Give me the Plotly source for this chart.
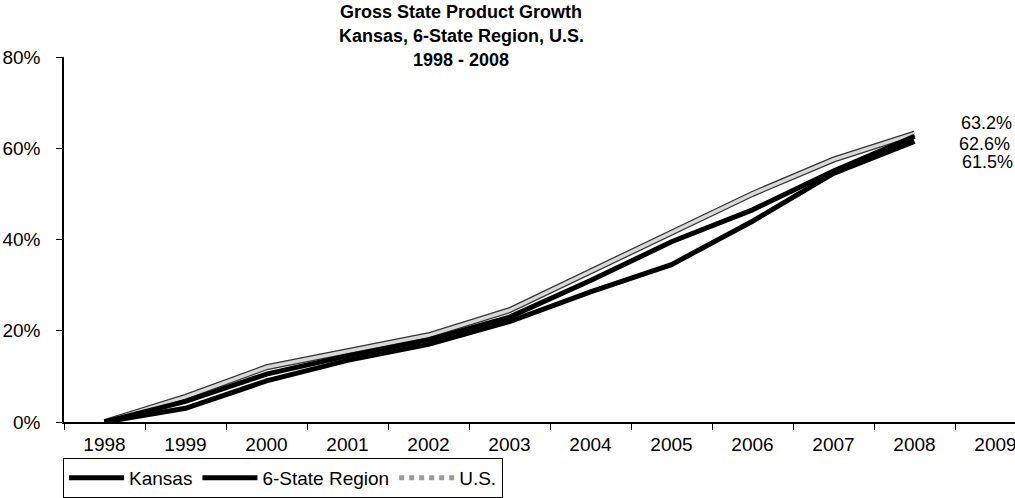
import plotly.graph_objects as go

years = ["1998", "1999", "2000", "2001", "2002", "2003", "2004", "2005", "2006", "2007", "2008"]
axis_years = years + ["2009"]
kansas = [0.0, 3.0, 9.0, 13.5, 17.0, 22.0, 28.5, 34.5, 44.0, 54.5, 61.5]
region = [0.0, 4.5, 10.5, 14.5, 18.0, 23.0, 31.0, 39.5, 46.5, 55.0, 62.6]
us = [0.0, 5.5, 12.0, 15.5, 19.0, 24.5, 33.0, 41.5, 50.0, 57.5, 63.2]
y_ticks = [0, 20, 40, 60, 80]
title_lines = ["Gross State Product Growth", "Kansas, 6-State Region, U.S.", "1998 - 2008"]

FONT = "Liberation Sans, Arial, sans-serif"
W, H = 1015, 498
L, T, B = 64, 57, 74
PH = H - T - B

fig = go.Figure()
fig.add_trace(go.Scatter(x=years, y=us, mode="lines", name="U.S.",
                         line=dict(color="#333333", width=6), showlegend=False, hoverinfo="skip"))
fig.add_trace(go.Scatter(x=years, y=us, mode="lines", name="U.S.",
                         line=dict(color="#d8d8d8", width=3.5), showlegend=False))
fig.add_trace(go.Scatter(x=years, y=region, mode="lines", name="6-State Region",
                         line=dict(color="black", width=5), showlegend=False))
fig.add_trace(go.Scatter(x=years, y=kansas, mode="lines", name="Kansas",
                         line=dict(color="black", width=5), showlegend=False))
# legend entries
fig.add_trace(go.Scatter(x=[None], y=[None], mode="lines", name="Kansas",
                         line=dict(color="black", width=5)))
fig.add_trace(go.Scatter(x=[None], y=[None], mode="lines", name="6-State Region",
                         line=dict(color="black", width=5)))
fig.add_trace(go.Scatter(x=[None], y=[None], mode="lines", name="U.S.",
                         line=dict(color="#9a9a9a", width=5, dash="dot")))

last = len(years) - 1
for val, dx, dy in [(us[-1], 72, 11), (region[-1], 70, -8), (kansas[-1], 73, -21)]:
    fig.add_annotation(x=last, y=val, xref="x", yref="y", text=f"{val:.1f}%",
                       showarrow=False, xshift=dx, yshift=dy,
                       font=dict(family=FONT, size=18, color="black"))

for txt, ypix in zip(title_lines, [12, 36, 60]):
    fig.add_annotation(x=(461 - L) / (W - L), xref="paper", y=(H - B - ypix) / PH, yref="paper",
                       text=f"<b>{txt}</b>", showarrow=False, xanchor="center", yanchor="middle",
                       font=dict(family=FONT, size=18, color="black"))

fig.update_layout(
    width=W, height=H,
    margin=dict(l=L, r=0, t=T, b=B),
    paper_bgcolor="white", plot_bgcolor="white",
    font=dict(family=FONT, size=19, color="black"),
    legend=dict(orientation="h", x=-0.001, xanchor="left", y=-0.1, yanchor="top",
                bordercolor="black", borderwidth=1, bgcolor="white",
                font=dict(family=FONT, size=19, color="black"),
                itemwidth=55, tracegroupgap=0),
    xaxis=dict(type="category", categoryorder="array", categoryarray=axis_years,
               tickvals=axis_years, range=[-0.5, -0.5 + (W - L) / 81.0],
               tickson="boundaries", ticks="outside", ticklen=6, tickcolor="black",
               showline=True, linecolor="black", linewidth=1.5, showgrid=False,
               zeroline=False, automargin=False, ticklabelstandoff=4,
               tickfont=dict(family=FONT, size=19, color="black")),
    yaxis=dict(range=[0, 80], tickvals=y_ticks, ticktext=[f"{v}%" for v in y_ticks],
               ticks="outside", ticklen=6, tickcolor="black",
               showline=True, linecolor="black", linewidth=1.5, showgrid=False,
               zeroline=False, automargin=False, ticklabelstandoff=12,
               tickfont=dict(family=FONT, size=19, color="black")),
)

fig.write_html("out.html")
